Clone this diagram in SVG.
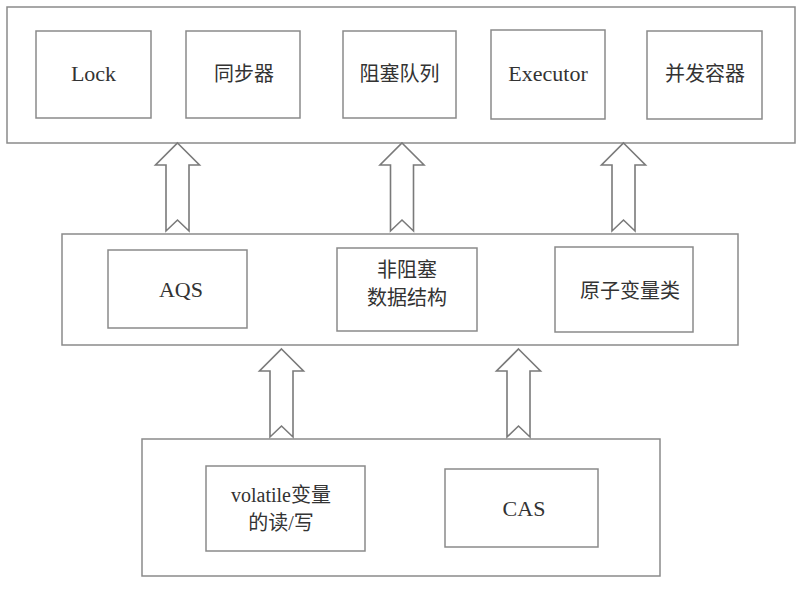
<svg xmlns="http://www.w3.org/2000/svg" width="800" height="595" viewBox="0 0 800 595">
<style>
.box{fill:#fff;stroke:#8a8a8a;stroke-width:1.5}
.t{font-family:'Liberation Serif','Noto Sans CJK SC',serif;font-size:20px;fill:#333;text-anchor:middle}
.l{font-size:22px}
.arr{fill:#fff;stroke:#7a7a7a;stroke-width:1.6;stroke-linejoin:miter}
</style>
<rect width="800" height="595" fill="#fff"/>
<g id="layer-top"><rect class="box" x="7" y="7" width="788" height="136"/></g>
<g id="lock"><rect class="box" x="36" y="31" width="115" height="87"/><text class="t l" x="93.5" y="81">Lock</text></g>
<g id="sync"><rect class="box" x="186" y="31" width="114" height="87"/><text class="t" x="244" y="81">同步器</text></g>
<g id="bq"><rect class="box" x="343" y="31" width="113" height="87"/><text class="t" x="399.5" y="81">阻塞队列</text></g>
<g id="executor"><rect class="box" x="491" y="30" width="114" height="89"/><text class="t l" x="548" y="81">Executor</text></g>
<g id="cc"><rect class="box" x="647" y="31" width="115" height="88"/><text class="t" x="705" y="81">并发容器</text></g>
<g id="layer-mid"><rect class="box" x="62" y="234" width="676" height="111"/></g>
<g id="aqs"><rect class="box" x="108" y="250" width="139" height="78"/><text class="t l" x="181" y="297">AQS</text></g>
<g id="nbds"><rect class="box" x="337" y="248" width="140" height="83"/><text class="t" x="407" y="277">非阻塞</text><text class="t" x="407" y="305">数据结构</text></g>
<g id="atomic"><rect class="box" x="555" y="247" width="138" height="85"/><text class="t" x="630" y="298">原子变量类</text></g>
<g id="layer-bottom"><rect class="box" x="142" y="439" width="518" height="137"/></g>
<g id="volatile"><rect class="box" x="206" y="466" width="159" height="85"/><text class="t" x="281" y="502" font-size="21">volatile变量</text><text class="t" x="281" y="530" font-size="21">的读/写</text></g>
<g id="cas"><rect class="box" x="445" y="469" width="153" height="78"/><text class="t l" x="524" y="516">CAS</text></g>
<g id="connectors">
<path class="arr" d="M177.5 143 L199.5 165 L189 165 L189 231 L177.5 220 L166 231 L166 165 L155.5 165 Z"/>
<path class="arr" d="M402 143 L424 165 L413.5 165 L413.5 231 L402 220 L390.5 231 L390.5 165 L380 165 Z"/>
<path class="arr" d="M623.5 143 L645.5 165 L635 165 L635 231 L623.5 220 L612 231 L612 165 L601.5 165 Z"/>
<path class="arr" d="M281.5 349 L303.5 371 L293 371 L293 437 L281.5 426 L270 437 L270 371 L259.5 371 Z"/>
<path class="arr" d="M518.5 349 L540.5 371 L530 371 L530 437 L518.5 426 L507 437 L507 371 L496.5 371 Z"/>
</g>
</svg>
